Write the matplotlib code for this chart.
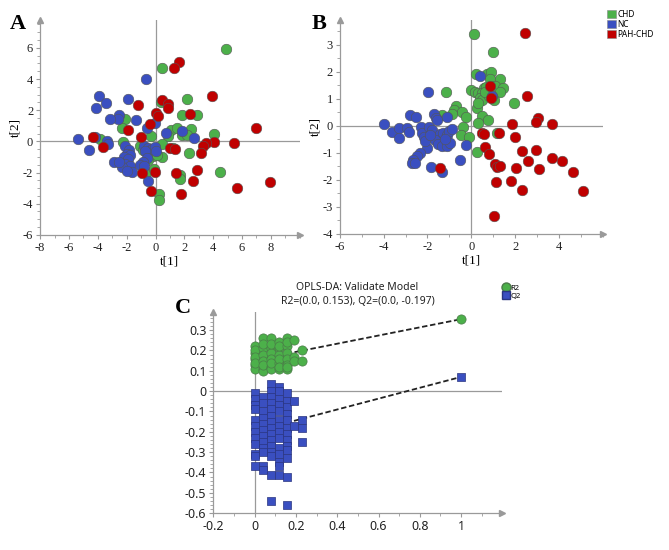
import matplotlib
matplotlib.use("Agg")
import matplotlib.pyplot as plt
from matplotlib.lines import Line2D
from matplotlib.patches import Patch
from matplotlib.ticker import MultipleLocator

# ---- panel A: PCA-like score plot t[1] vs t[2] ----
a_chd_x = [4.87, 0.46, 2.17, 1.85, 2.9, -2.15, -2.3, -0.34, 1.07, 1.49, 0.87, 1.85, 2.45, 2.19,
           4.05, -3.82, -2.22, -1.07, 0.48, -0.16, 0.43, 2.29, -0.69, -0.11, 1.67, 1.71, 4.46,
           0.21, 0.21, 0.4, -0.9, -0.5, 0.1, 1.2]
a_chd_y = [5.9, 4.69, 2.69, 1.70, 1.66, 1.46, 0.88, 0.37, 0.71, 0.86, 0.34, 0.41, 0.82, 0.39,
           0.45, 0.17, -0.04, -0.30, -0.17, -0.95, -1.03, -0.75, -2.02, -1.8, -2.17, -2.39, -1.98,
           -3.35, -3.74, 2.5, -0.55, -1.2, -0.9, -0.4]
a_nc_x = [-0.69, -3.89, -4.14, -3.45, -1.92, -2.51, -2.61, -3.13, -1.35, -0.62, -0.05, 0.75, 1.83,
          2.70, -5.35, -4.64, -3.36, -3.29, -4.2, -0.8, -0.55, -0.25, -0.05, 0.0, -0.75, -0.6,
          -0.9, -1.05, -0.8, -2.1, -1.85, -2.0, -1.75, -2.2, -1.9, -2.1, -1.8, -2.3, -1.6, -2.0,
          -2.9, -2.56, -0.5]
a_nc_y = [4.0, 2.92, 2.13, 2.45, 2.71, 1.72, 1.42, 1.46, 1.38, 0.88, 1.2, 0.56, 0.67,
          0.19, 0.17, -0.56, 0.02, -0.17, 0.25, -0.3, -0.45, -0.5, -0.35, -0.6, -0.6, -1.1,
          -1.35, -1.5, -1.6, -0.3, -0.55, -0.8, -0.85, -1.0, -1.15, -1.45, -1.6, -1.65, -1.95, -1.9,
          -1.31, -1.33, -2.56]
a_pah_x = [1.62, 1.26, 3.95, 0.48, 0.87, 0.87, -1.23, 0.02, 0.16, 2.42, -0.39, -1.92, 6.97, -4.32,
           -3.66, -1.01, 0.98, 1.33, 4.07, 3.50, 3.27, 3.15, 5.44, -0.96, -0.05, 1.44, 2.9, 2.58,
           1.78, -0.34, 5.62, 7.95]
a_pah_y = [5.08, 4.69, 2.92, 2.67, 2.39, 2.17, 2.32, 1.81, 1.63, 1.76, 1.10, 0.71, 0.88, 0.28,
           -0.34, 0.28, -0.41, -0.52, -0.04, -0.13, -0.30, -0.73, -0.09, -2.06, -1.98, -2.06, -1.85,
           -2.56, -3.38, -3.16, -2.99, -2.62]

# ---- panel B: OPLS-DA score plot ----
b_chd_x = [0.12, 0.97, 0.21, 0.73, 0.92, 0.85, 1.32, -1.17, -0.03, 0.17, 0.32, 0.58, 0.67, 0.5,
           0.4, 0.47, 1.1, 1.45, 1.3, 1.05, 1.95, -0.70, -0.79, -1.32, -0.44, -0.24, 0.24, 0.32,
           0.47, 0.77, 0.32, -0.36, -0.47, -0.09, 0.24, 1.18, -0.9, 0.8, 0.62]
b_chd_y = [3.40, 2.73, 1.93, 1.93, 2.0, 1.74, 1.74, 1.25, 1.33, 1.27, 1.23, 1.40, 1.43, 1.2,
           1.05, 0.95, 1.46, 1.40, 1.27, 0.96, 0.84, 0.74, 0.59, 0.40, 0.51, 0.32, 0.65, 0.84,
           0.35, 0.22, 0.12, -0.05, -0.33, -0.40, -0.98, -0.27, 0.45, 1.1, 1.25]
b_nc_x = [0.39, 0.94, -1.98, -3.97, -3.61, -3.32, -3.29, -2.94, -2.86, -2.79, -2.53, -2.30, -2.26,
          -2.18, -1.91, -1.80, -1.70, -1.62, -1.55, -1.09, -1.42, -1.27, -1.12, -1.0, -0.88, -1.65,
          -1.53, -1.35, -1.12, -0.97, -2.03, -2.33, -2.48, -2.64, -2.72, -2.58, -1.85, -1.32, -0.52,
          -0.26, -2.1, -1.9, -1.2]
b_nc_y = [1.83, 1.09, 1.25, 0.07, -0.22, -0.09, -0.46, -0.09, -0.22, 0.41, 0.32, -0.06, -0.25,
          -0.42, -0.06, -0.15, 0.43, 0.28, 0.22, 0.32, -0.30, -0.25, -0.33, -0.2, -0.12, -0.52,
          -0.68, -0.74, -0.73, -0.64, -0.83, -1.02, -1.11, -1.26, -1.38, -1.38, -1.51, -1.72, -1.26,
          -0.70, -0.55, -0.35, -0.5]
b_pah_x = [2.45, 0.85, 0.88, 2.52, 3.05, 2.97, 3.70, 1.86, 2.0, 1.26, 0.48, 0.58, 0.62, 0.79,
           2.32, 2.97, 1.09, 1.15, 1.33, 2.58, 2.06, 3.08, 3.68, 4.14, 4.64, 1.12, 1.83, 2.33,
           5.09, 1.02, -1.42]
b_pah_y = [3.43, 1.49, 1.02, 1.12, 0.28, 0.16, 0.06, 0.07, -0.40, -0.25, -0.27, -0.30, -0.77, -1.04,
           -0.93, -0.89, -1.41, -1.51, -1.48, -1.32, -1.57, -1.59, -1.20, -1.30, -1.72, -2.07, -2.04,
           -2.37, -2.41, -3.33, -1.57]

# ---- panel C: permutation test ----
r2_x = [0, 0, 0, 0, 0, 0, 0, 0,
        0.04, 0.04, 0.04, 0.04, 0.04, 0.04, 0.04, 0.04,
        0.08, 0.08, 0.08, 0.08, 0.08, 0.08, 0.08, 0.08,
        0.12, 0.12, 0.12, 0.12, 0.12, 0.12, 0.12, 0.12,
        0.155, 0.155, 0.155, 0.155, 0.155, 0.155, 0.155, 0.155,
        0.19, 0.19, 0.19, 0.23, 0.23, 1.0]
r2_y = [0.22, 0.19, 0.16, 0.13, 0.11, 0.20, 0.17, 0.14,
        0.26, 0.21, 0.18, 0.15, 0.11, 0.10, 0.23, 0.13,
        0.26, 0.21, 0.19, 0.16, 0.12, 0.11, 0.23, 0.14,
        0.24, 0.21, 0.18, 0.14, 0.11, 0.22, 0.16, 0.12,
        0.26, 0.22, 0.19, 0.16, 0.11, 0.24, 0.13, 0.12,
        0.25, 0.17, 0.15, 0.20, 0.15, 0.354]
q2_x = [0] * 12 + [0.04] * 12 + [0.08] * 15 + [0.12] * 14 + [0.155] * 13 + [0.19] * 2 + [0.23] * 3 + [1.0]
q2_y = [-0.01, -0.04, -0.07, -0.09, -0.14, -0.17, -0.2, -0.23, -0.26, -0.31, -0.32, -0.37,
        -0.03, -0.06, -0.1, -0.13, -0.16, -0.19, -0.22, -0.25, -0.28, -0.30, -0.37, -0.39,
        0.035, 0.0, -0.03, -0.06, -0.09, -0.12, -0.15, -0.18, -0.21, -0.24, -0.27, -0.3, -0.32, -0.41, -0.54,
        0.02, 0.0, -0.04, -0.07, -0.1, -0.14, -0.17, -0.2, -0.23, -0.28, -0.31, -0.35, -0.37, -0.41,
        -0.01, -0.05, -0.08, -0.11, -0.14, -0.18, -0.21, -0.24, -0.27, -0.29, -0.33, -0.42, -0.56,
        -0.05, -0.17,
        -0.14, -0.18, -0.25,
        0.07]
r2_intercept = 0.153
q2_intercept = -0.197
c_xticks = [-0.2, 0, 0.2, 0.4, 0.6, 0.8, 1]
c_xlabels = ["-0.2", "0", "0.2", "0.4", "0.6", "0.8", "1"]
c_yticks = [-0.6, -0.5, -0.4, -0.3, -0.2, -0.1, 0, 0.1, 0.2, 0.3]
c_ylabels = ["-0.6", "-0.5", "-0.4", "-0.3", "-0.2", "-0.1", "0", "0.1", "0.2", "0.3"]

GREEN = "#4cb04a"
BLUE = "#3a4fc0"
RED = "#c00000"
GRAY = "#9a9a9a"
SERIF = ["Liberation Serif", "DejaVu Serif"]
SANS = ["Noto Sans", "DejaVu Sans"]

plt.rcParams["font.family"] = SERIF
plt.rcParams["axes.unicode_minus"] = False


def style_axes(ax, tick_size):
    for s in ("top", "right"):
        ax.spines[s].set_visible(False)
    for s in ("left", "bottom"):
        ax.spines[s].set_color(GRAY)
        ax.spines[s].set_linewidth(0.9)
    ax.axhline(0, color=GRAY, lw=0.9, zorder=1)
    ax.axvline(0, color=GRAY, lw=0.9, zorder=1)
    ax.tick_params(which="major", direction="out", length=3, color=GRAY, width=0.8,
                   labelsize=tick_size, pad=2, labelcolor="#222222")
    ax.tick_params(which="minor", direction="out", length=2, color=GRAY, width=0.6)
    # arrow heads at the end of the axes
    ax.plot(1, 0, ">", color=GRAY, ms=5, transform=ax.transAxes, clip_on=False)
    ax.plot(0, 1, "^", color=GRAY, ms=5, transform=ax.transAxes, clip_on=False)


def scatter_group(ax, x, y, color):
    ax.scatter(x, y, s=58, c=color, edgecolors="#555555", linewidths=0.4, zorder=3)


fig = plt.figure(figsize=(6.69, 5.5), dpi=100)

# panel A
axA = fig.add_axes([0.060, 0.573, 0.388, 0.391])
scatter_group(axA, a_chd_x, a_chd_y, GREEN)
scatter_group(axA, a_nc_x, a_nc_y, BLUE)
scatter_group(axA, a_pah_x, a_pah_y, RED)
axA.set_xlim(-8, 10)
axA.set_ylim(-6, 7.8)
axA.set_xticks([-8, -6, -4, -2, 0, 2, 4, 6, 8])
axA.xaxis.set_minor_locator(MultipleLocator(1))
axA.set_yticks([-6, -4, -2, 0, 2, 4, 6])
axA.yaxis.set_minor_locator(MultipleLocator(0.5))
style_axes(axA, 9)
axA.set_xlabel("t[1]", fontsize=9.5, labelpad=1)
axA.set_ylabel("t[2]", fontsize=9.5, labelpad=1)

# panel B
axB = fig.add_axes([0.508, 0.575, 0.393, 0.389])
scatter_group(axB, b_chd_x, b_chd_y, GREEN)
scatter_group(axB, b_nc_x, b_nc_y, BLUE)
scatter_group(axB, b_pah_x, b_pah_y, RED)
axB.set_xlim(-6, 6)
axB.set_ylim(-4, 3.93)
axB.set_xticks([-6, -4, -2, 0, 2, 4])
axB.xaxis.set_minor_locator(MultipleLocator(1))
axB.set_yticks([-4, -3, -2, -1, 0, 1, 2, 3])
axB.yaxis.set_minor_locator(MultipleLocator(0.5))
style_axes(axB, 9)
axB.set_xlabel("t[1]", fontsize=9.5, labelpad=1)
axB.set_ylabel("t[2]", fontsize=9.5, labelpad=1)

fig.legend(handles=[Patch(facecolor=GREEN, edgecolor="#888888", lw=0.4, label="CHD"),
                    Patch(facecolor=BLUE, edgecolor="#888888", lw=0.4, label="NC"),
                    Patch(facecolor=RED, edgecolor="#888888", lw=0.4, label="PAH-CHD")],
           loc="upper left", bbox_to_anchor=(0.908, 0.982), frameon=False,
           handlelength=1.0, handleheight=1.1, handletextpad=0.2, labelspacing=0.1,
           borderaxespad=0, borderpad=0, prop={"family": SANS, "size": 6})

# panel C
axC = fig.add_axes([0.319, 0.067, 0.431, 0.366])
axC.plot([0, r2_x[-1]], [r2_intercept, r2_y[-1]], "--", color="#222222", lw=1.3,
         dashes=(3, 1.5), zorder=2)
axC.plot([0, q2_x[-1]], [q2_intercept, q2_y[-1]], "--", color="#222222", lw=1.3,
         dashes=(3, 1.5), zorder=2)
axC.scatter(r2_x, r2_y, s=44, marker="o", c=GREEN, edgecolors="#4a7a48", linewidths=0.5, zorder=3)
axC.scatter(q2_x, q2_y, s=38, marker="s", c=BLUE, edgecolors="#2a3580", linewidths=0.5, zorder=3)
axC.set_xlim(-0.2, 1.197)
axC.set_ylim(-0.6, 0.39)
axC.set_xticks(c_xticks)
axC.set_xticklabels(c_xlabels, family=SANS)
axC.xaxis.set_minor_locator(MultipleLocator(0.1))
axC.set_yticks(c_yticks)
axC.set_yticklabels(c_ylabels, family=SANS)
axC.yaxis.set_minor_locator(MultipleLocator(0.02))
style_axes(axC, 9)
axC.set_title("OPLS-DA: Validate Model\nR2=(0.0, 0.153), Q2=(0.0, -0.197)",
              family=SANS, fontsize=7.5, pad=6, linespacing=1.3, color="#222222")

fig.legend(handles=[Line2D([], [], ls="", marker="o", ms=6.5, mfc=GREEN, mec="#4a7a48", label="R2"),
                    Line2D([], [], ls="", marker="s", ms=6, mfc=BLUE, mec="#2a3580", label="Q2")],
           loc="upper left", bbox_to_anchor=(0.752, 0.483), frameon=False,
           handlelength=0.8, handletextpad=0.2, labelspacing=0.1,
           borderaxespad=0, borderpad=0, prop={"family": SANS, "size": 5.5})

# panel letters
for letter, x, y in (("A", 0.015, 0.975), ("B", 0.466, 0.975), ("C", 0.262, 0.458)):
    fig.text(x, y, letter, fontsize=16, fontweight="bold", va="top", ha="left")

fig.savefig("out.png", dpi=100)
